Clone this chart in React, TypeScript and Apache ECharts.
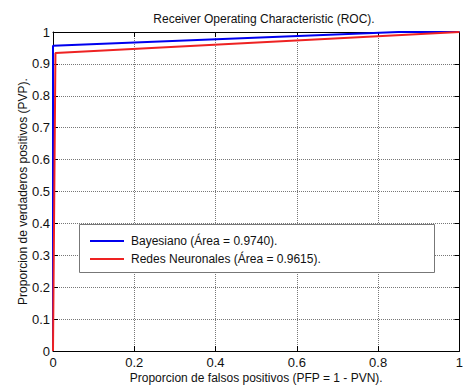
import React, { useEffect, useRef } from "react";
import * as echarts from "echarts";

const titleText = "Receiver Operating Characteristic (ROC).";
const xName = "Proporcion de falsos positivos (PFP = 1 - PVN).";
const yName = "Proporcion de verdaderos positivos (PVP).";
const seriesNames = ["Bayesiano (Área = 0.9740).", "Redes Neuronales (Área = 0.9615)."];
const bayesX = [0, 0, 0.85, 1];
const bayesY = [0, 0.957, 1, 1];
const redesX = [0, 0.006, 1];
const redesY = [0, 0.934, 1];

const FONT = "'Liberation Sans', Arial, sans-serif";

export default function App() {
  const ref = useRef<HTMLDivElement>(null);
  useEffect(() => {
    if (!ref.current) return;
    const chart = echarts.init(ref.current, null, { renderer: "svg" });
    const gridLine = { show: true, lineStyle: { color: "#777", width: 1, type: "dotted" } };
    const tick = { show: true, inside: true, length: 5, lineStyle: { color: "#000", width: 1 } };
    const option: any = {
      animation: false,
      backgroundColor: "#ffffff",
      textStyle: { fontFamily: FONT },
      title: {
        text: titleText,
        left: 259,
        textAlign: "center",
        top: 8,
        textStyle: { fontSize: 12, fontWeight: "normal", color: "#111", fontFamily: FONT },
      },
      grid: { left: 53, right: 1, top: 32, bottom: 36, containLabel: false },
      xAxis: [
        {
          type: "value",
          min: 0,
          max: 1,
          interval: 0.2,
          name: xName,
          nameLocation: "middle",
          nameGap: 21,
          nameMoveOverlap: false,
          nameTextStyle: { fontSize: 12, color: "#111", fontFamily: FONT },
          axisLine: { show: true, onZero: false, lineStyle: { color: "#000", width: 1 } },
          axisTick: tick,
          axisLabel: { fontSize: 13, color: "#111", margin: 5, fontFamily: FONT },
          splitLine: gridLine,
        },
        {
          type: "value",
          position: "top",
          min: 0,
          max: 1,
          interval: 0.2,
          axisLine: { show: true, onZero: false, lineStyle: { color: "#000", width: 1 } },
          axisTick: tick,
          axisLabel: { show: false },
          splitLine: { show: false },
        },
      ],
      yAxis: [
        {
          type: "value",
          min: 0,
          max: 1,
          interval: 0.1,
          name: yName,
          nameLocation: "middle",
          nameGap: 24,
          nameMoveOverlap: false,
          nameTextStyle: { fontSize: 12, color: "#111", fontFamily: FONT },
          axisLine: { show: true, onZero: false, lineStyle: { color: "#000", width: 1 } },
          axisTick: tick,
          axisLabel: { fontSize: 13, color: "#111", margin: 3, fontFamily: FONT },
          splitLine: gridLine,
        },
        {
          type: "value",
          position: "right",
          min: 0,
          max: 1,
          interval: 0.1,
          axisLine: { show: true, onZero: false, lineStyle: { color: "#000", width: 1 } },
          axisTick: tick,
          axisLabel: { show: false },
          splitLine: { show: false },
        },
      ],
      graphic: [
        {
          type: "rect",
          shape: { x: 79.5, y: 224.5, width: 355, height: 48 },
          style: { fill: "#fff", stroke: "#777", lineWidth: 1 },
          z: 100,
        },
      ],
      legend: {
        data: seriesNames,
        orient: "vertical",
        left: 90,
        top: 235,
        icon: "rect",
        itemWidth: 34,
        itemHeight: 2,
        itemGap: 6,
        padding: 0,
        z: 200,
        textStyle: { fontSize: 12, color: "#111", fontFamily: FONT, padding: [0, 0, 0, 2] },
      },
      series: [
        {
          name: seriesNames[0],
          type: "line",
          symbol: "none",
          xAxisIndex: 0,
          yAxisIndex: 0,
          data: bayesX.map((x, i) => [x, bayesY[i]]),
          lineStyle: { color: "#0000ee", width: 2 },
          itemStyle: { color: "#0000ee" },
          z: 3,
        },
        {
          name: seriesNames[1],
          type: "line",
          symbol: "none",
          xAxisIndex: 0,
          yAxisIndex: 0,
          data: redesX.map((x, i) => [x, redesY[i]]),
          lineStyle: { color: "#ee2222", width: 2 },
          itemStyle: { color: "#ee2222" },
          z: 4,
        },
      ],
    };
    chart.setOption(option);
    return () => chart.dispose();
  }, []);
  return (
    <div
      ref={ref}
      style={{ position: "fixed", left: 0, top: 0, width: 466, height: 389, background: "#fff" }}
    />
  );
}
